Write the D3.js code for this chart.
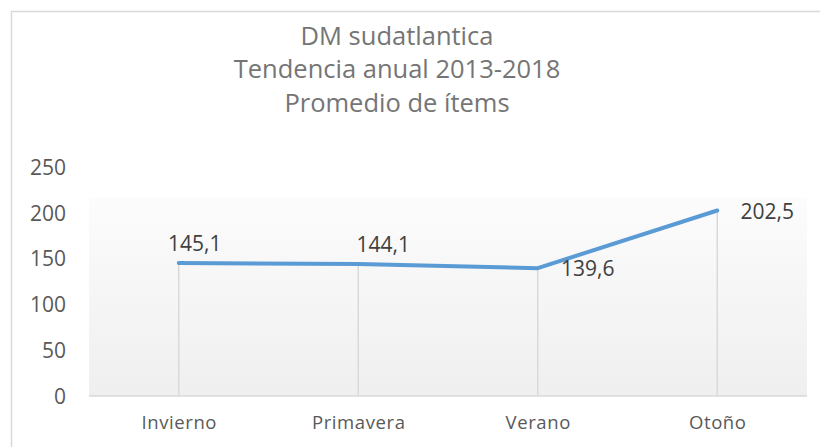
<!DOCTYPE html>
<html>
<head>
<meta charset="utf-8">
<script src="https://cdn.jsdelivr.net/npm/d3@7/dist/d3.min.js"></script>
<style>
  html, body { margin: 0; padding: 0; background: #fff; }
  svg { display: block; }
</style>
</head>
<body>
<script>
const titleLines = ["DM sudatlantica", "Tendencia anual 2013-2018", "Promedio de ítems"];
const categories = ["Invierno", "Primavera", "Verano", "Otoño"];
const values = [145.1, 144.1, 139.6, 202.5];
const valueLabels = ["145,1", "144,1", "139,6", "202,5"];
const yTicks = [0, 50, 100, 150, 200, 250];

// label placement offsets (dx, dy) relative to each point
const labelOffsets = [[16, -12], [25, -12], [50, 8], [50, 8]];

const W = 820, H = 447;
const margin = { left: 89, right: 13, top: 167, bottom: 51 };
const svg = d3.select("body").append("svg").attr("width", W).attr("height", H);

const font = "'Open Sans', 'Liberation Sans', sans-serif";

// chart border (only top and left visible within frame)
svg.append("rect")
  .attr("x", 11.5).attr("y", 11.5)
  .attr("width", 900).attr("height", 600)
  .attr("fill", "#fff").attr("stroke", "#d9d9d9").attr("stroke-width", 1.5);

const x = d3.scalePoint().domain(categories).range([margin.left, W - margin.right]).padding(0.5);
const y = d3.scaleLinear().domain([0, 250]).range([H - margin.bottom, margin.top]);

// plot area gradient
const plotTop = 197;
const defs = svg.append("defs");
const grad = defs.append("linearGradient").attr("id", "pg").attr("x1", 0).attr("y1", 0).attr("x2", 0).attr("y2", 1);
grad.append("stop").attr("offset", "0%").attr("stop-color", "#fcfcfc");
grad.append("stop").attr("offset", "100%").attr("stop-color", "#efefef");
svg.append("rect")
  .attr("x", margin.left).attr("y", plotTop)
  .attr("width", W - margin.right - margin.left)
  .attr("height", y(0) - plotTop)
  .attr("fill", "url(#pg)");

// title
svg.append("g").selectAll("text").data(titleLines).join("text")
  .attr("x", 397).attr("y", (d, i) => 44.5 + i * 33.5)
  .attr("text-anchor", "middle")
  .attr("font-family", font).attr("font-size", 25.5)
  .attr("fill", "#757575")
  .text(d => d);

// y axis (labels only)
const yAxis = d3.axisLeft(y).tickValues(yTicks).tickSize(0).tickPadding(0).tickFormat(d3.format("d"));
const yg = svg.append("g").attr("transform", `translate(66,0)`).call(yAxis);
yg.select(".domain").remove();
yg.selectAll("text").attr("font-family", font).attr("font-size", 21).attr("fill", "#595959").attr("dy", "0.35em");

// drop lines
svg.append("g").selectAll("line").data(values).join("line")
  .attr("x1", (d, i) => x(categories[i])).attr("x2", (d, i) => x(categories[i]))
  .attr("y1", d => y(d)).attr("y2", y(0))
  .attr("stroke", "#d9d9d9").attr("stroke-width", 1.5);

// x axis
const xAxis = d3.axisBottom(x).tickSize(0).tickPadding(0);
const xg = svg.append("g").attr("transform", `translate(0,${y(0)})`).call(xAxis);
xg.select(".domain").attr("stroke", "#d9d9d9").attr("stroke-width", 1.5)
  .attr("d", `M${margin.left},0H${W - margin.right}`);
xg.selectAll("text").attr("font-family", font).attr("font-size", 18.5).attr("fill", "#595959")
  .attr("y", 33).attr("dy", 0).style("letter-spacing", "0.6px");

// line
const line = d3.line().x((d, i) => x(categories[i])).y(d => y(d));
svg.append("path").datum(values)
  .attr("d", line)
  .attr("fill", "none").attr("stroke", "#5b9bd5").attr("stroke-width", 4)
  .attr("stroke-linejoin", "round").attr("stroke-linecap", "round");

// data labels
svg.append("g").selectAll("text").data(values).join("text")
  .attr("x", (d, i) => x(categories[i]) + labelOffsets[i][0])
  .attr("y", (d, i) => y(d) + labelOffsets[i][1])
  .attr("text-anchor", "middle")
  .attr("font-family", font).attr("font-size", 21)
  .attr("fill", "#404040")
  .text((d, i) => valueLabels[i]);
</script>
</body>
</html>
